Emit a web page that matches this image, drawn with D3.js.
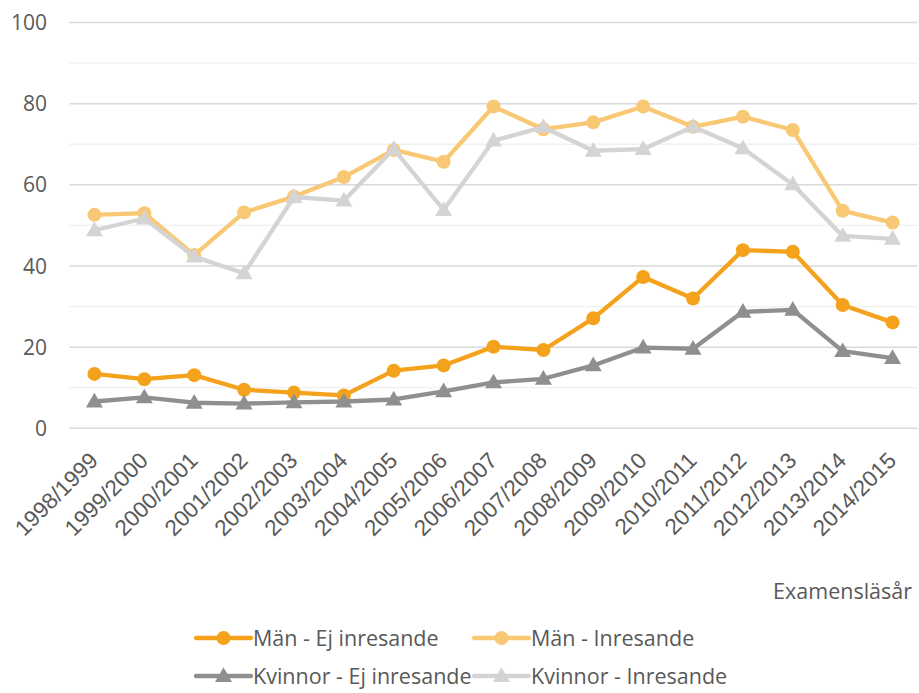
<!DOCTYPE html>
<html>
<head>
<meta charset="utf-8">
<script src="https://cdn.jsdelivr.net/npm/d3@7"></script>
<style>
  body { margin: 0; background: #fff; }
</style>
</head>
<body>
<div id="chart"></div>
<script>
var years = ["1998/1999","1999/2000","2000/2001","2001/2002","2002/2003","2003/2004",
    "2004/2005","2005/2006","2006/2007","2007/2008","2008/2009","2009/2010",
    "2010/2011","2011/2012","2012/2013","2013/2014","2014/2015"];

var manEj = [13.4, 12.1, 13.1, 9.5, 8.8, 8.1, 14.2, 15.5, 20.1, 19.3, 27.1, 37.3, 32.0, 43.9, 43.5, 30.4, 26.1];
var manIn = [52.6, 53.0, 42.7, 53.2, 57.1, 61.9, 68.6, 65.7, 79.3, 73.7, 75.4, 79.3, 74.3, 76.8, 73.5, 53.6, 50.7];
var kvEj  = [6.6, 7.6, 6.3, 6.1, 6.4, 6.6, 7.1, 9.1, 11.3, 12.2, 15.5, 19.9, 19.6, 28.7, 29.2, 19.0, 17.3];
var kvIn  = [48.8, 51.7, 42.3, 38.2, 57.0, 56.1, 68.8, 53.8, 70.9, 74.2, 68.4, 68.8, 74.3, 69.0, 60.1, 47.4, 46.7];

var seriesNames = ["Män - Ej inresande", "Män - Inresande", "Kvinnor - Ej inresande", "Kvinnor - Inresande"];
var seriesColors = ["#f4a21c", "#f9c874", "#8f8f8f", "#d4d4d4"];
var seriesShapes = ["circle", "circle", "triangle", "triangle"];
var seriesValues = [manEj, manIn, kvEj, kvIn];

var yTicks = [0, 20, 40, 60, 80, 100];
var yMinor = [10, 30, 50, 70, 90];

var width = 919, height = 693;

var svg = d3.select("#chart")
    .append("svg")
    .attr("width", width)
    .attr("height", height);

var x = d3.scalePoint()
    .domain(years)
    .range([69.5, 917.5])
    .padding(0.5);

var y = d3.scaleLinear()
    .domain([0, 100])
    .range([428.3, 22.5]);

// gridlines
svg.selectAll(".minor")
    .data(yMinor)
    .enter()
    .append("line")
    .attr("x1", 69.5).attr("x2", 917.5)
    .attr("y1", function(d) { return y(d); })
    .attr("y2", function(d) { return y(d); })
    .attr("stroke", "#f0f0f0")
    .attr("stroke-width", 1.3);

svg.selectAll(".major")
    .data(yTicks)
    .enter()
    .append("line")
    .attr("x1", 69.5).attr("x2", 917.5)
    .attr("y1", function(d) { return y(d); })
    .attr("y2", function(d) { return y(d); })
    .attr("stroke", "#d9d9d9")
    .attr("stroke-width", 1.5);

// y labels
svg.selectAll(".ylab")
    .data(yTicks)
    .enter()
    .append("text")
    .attr("x", 47)
    .attr("y", function(d) { return y(d); })
    .attr("dy", "0.36em")
    .attr("text-anchor", "end")
    .attr("font-family", "Open Sans")
    .attr("font-size", "21px")
    .attr("fill", "#595959")
    .text(function(d) { return d; });

// x labels
svg.selectAll(".xlab")
    .data(years)
    .enter()
    .append("text")
    .attr("transform", function(d) { return "translate(" + (x(d) + 5) + ",462) rotate(-45)"; })
    .attr("text-anchor", "end")
    .attr("font-family", "Liberation Sans")
    .attr("font-size", "22.5px")
    .attr("fill", "#595959")
    .text(function(d) { return d; });

svg.append("text")
    .attr("x", 912)
    .attr("y", 599)
    .attr("text-anchor", "end")
    .attr("font-family", "Open Sans")
    .attr("font-size", "21.5px")
    .attr("fill", "#595959")
    .text("Examensläsår");

var tri = d3.symbol().type(d3.symbolTriangle).size(125);

function drawMarker(g, shape, color, cx, cy) {
    if (shape === "circle") {
        g.append("circle")
            .attr("cx", cx).attr("cy", cy).attr("r", 7)
            .attr("fill", color);
    } else {
        g.append("path")
            .attr("d", tri)
            .attr("transform", "translate(" + cx + "," + (cy + 1) + ")")
            .attr("fill", color);
    }
}

var line = d3.line()
    .x(function(d, i) { return x(years[i]); })
    .y(function(d) { return y(d); });

seriesValues.forEach(function(vals, s) {
    var g = svg.append("g");
    g.append("path")
        .datum(vals)
        .attr("d", line)
        .attr("fill", "none")
        .attr("stroke", seriesColors[s])
        .attr("stroke-width", 4.3)
        .attr("stroke-linejoin", "round")
        .attr("stroke-linecap", "round");
    vals.forEach(function(v, i) {
        drawMarker(g, seriesShapes[s], seriesColors[s], x(years[i]), y(v));
    });
});

// legend
var legX = [196, 474];
var legY = [638, 676];
seriesNames.forEach(function(name, s) {
    var lx = legX[s % 2], ly = legY[Math.floor(s / 2)];
    var g = svg.append("g");
    g.append("line")
        .attr("x1", lx).attr("x2", lx + 55)
        .attr("y1", ly).attr("y2", ly)
        .attr("stroke", seriesColors[s])
        .attr("stroke-width", 4.3)
        .attr("stroke-linecap", "round");
    drawMarker(g, seriesShapes[s], seriesColors[s], lx + 27.5, ly);
    g.append("text")
        .attr("x", lx + 57)
        .attr("y", ly)
        .attr("dy", "0.36em")
        .attr("font-family", "Open Sans")
        .attr("font-size", "21.5px")
        .attr("fill", "#595959")
        .text(name);
});
</script>
</body>
</html>
